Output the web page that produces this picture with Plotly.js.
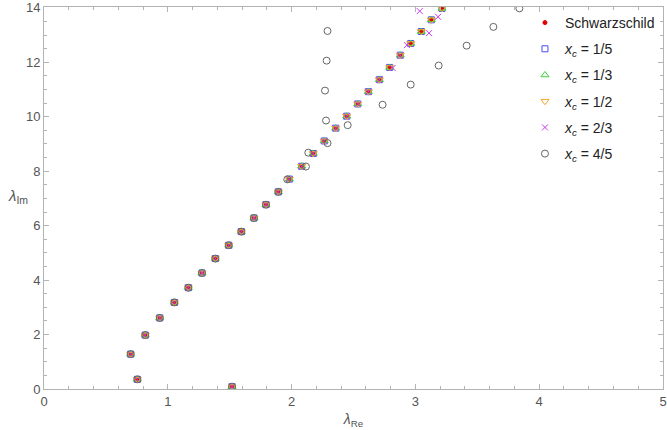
<!DOCTYPE html>
<html>
<head>
<meta charset="utf-8">
<script src="https://cdn.plot.ly/plotly-3.0.1.min.js"></script>
<style>
  html, body { margin: 0; padding: 0; background: #fff; overflow: hidden; }
  #plot { width: 667px; height: 430px; }
</style>
</head>
<body>
<div id="plot"></div>
<script>
// Schwarzschild values
let schwRe = [0.754, 1.519, 0.70, 0.818, 0.935, 1.053, 1.166, 1.276, 1.384, 1.492, 1.594, 1.696, 1.793, 1.893,
              1.982, 2.081, 2.175, 2.264, 2.356, 2.445, 2.534, 2.620, 2.709, 2.792, 2.878, 2.962, 3.048, 3.129, 3.215];
let schwIm = [0.355, 0.084, 1.28, 1.98, 2.61, 3.18, 3.72, 4.26, 4.79, 5.28, 5.78, 6.28, 6.77, 7.24,
              7.71, 8.18, 8.65, 9.11, 9.58, 10.02, 10.47, 10.92, 11.36, 11.81, 12.26, 12.69, 13.13, 13.56, 13.98];

// x_c = 1/5, 1/3, 1/2 sit on top of Schwarzschild
let xc15Re = schwRe.slice(), xc15Im = schwIm.slice();
let xc13Re = schwRe.slice(), xc13Im = schwIm.slice();
let xc12Re = schwRe.slice(), xc12Im = schwIm.slice();

// x_c = 2/3 splits near the top
let xc23Re = [0.754, 1.519, 0.70, 0.818, 0.935, 1.053, 1.166, 1.276, 1.384, 1.492, 1.594, 1.696, 1.793, 1.893,
              1.982, 2.081, 2.175, 2.264, 2.356, 2.445, 2.534, 2.620, 2.709, 2.816, 2.878, 2.932, 3.110, 3.035, 3.183];
let xc23Im = [0.355, 0.084, 1.28, 1.98, 2.61, 3.18, 3.72, 4.26, 4.79, 5.28, 5.78, 6.28, 6.77, 7.24,
              7.71, 8.18, 8.65, 9.11, 9.58, 10.02, 10.47, 10.92, 11.36, 11.79, 12.26, 12.63, 13.07, 13.88, 13.67];

// x_c = 4/5 branches off around 7.7
let xc45Re = [0.754, 1.519, 0.70, 0.818, 0.935, 1.053, 1.166, 1.276, 1.384, 1.492, 1.594, 1.696, 1.793, 1.893,
              1.965, 2.116, 2.135, 2.290, 2.278, 2.270, 2.283, 2.290,
              2.453, 2.735, 2.962, 3.188, 3.414, 3.630, 3.840];
let xc45Im = [0.355, 0.084, 1.28, 1.98, 2.61, 3.18, 3.72, 4.26, 4.79, 5.28, 5.78, 6.28, 6.77, 7.24,
              7.70, 8.17, 8.68, 9.03, 9.86, 10.96, 12.06, 13.15,
              9.69, 10.44, 11.18, 11.88, 12.61, 13.30, 13.98];

let xTicks = [0, 1, 2, 3, 4, 5];
let yTicks = [0, 2, 4, 6, 8, 10, 12, 14];

let names = ["Schwarzschild", "<i>x</i><sub><i>c</i></sub> = 1/5", "<i>x</i><sub><i>c</i></sub> = 1/3",
             "<i>x</i><sub><i>c</i></sub> = 1/2", "<i>x</i><sub><i>c</i></sub> = 2/3", "<i>x</i><sub><i>c</i></sub> = 4/5"];

function trace(x, y, i, symbol, color, size) {
    return {
        x: x, y: y, name: names[i], type: "scatter", mode: "markers",
        legendgroup: "g" + i,
        marker: { symbol: symbol, color: color, size: size, line: { color: color, width: 1 } }
    };
}

let data = [
    trace(schwRe, schwIm, 0, "circle", "#e00000", 4),
    trace(xc15Re, xc15Im, 1, "square-open", "#4a4aff", 6),
    trace(xc13Re, xc13Im, 2, "triangle-up-open", "#3cd23c", 7),
    trace(xc12Re, xc12Im, 3, "triangle-down-open", "#f5a623", 7),
    trace(xc23Re, xc23Im, 4, "x-thin-open", "#c63cf0", 6),
    trace(xc45Re, xc45Im, 5, "circle-open", "#666666", 7)
];

let axisCommon = {
    showgrid: false, zeroline: false, showline: true, mirror: "ticks",
    automargin: false,
    linecolor: "#b3b3b3", linewidth: 1,
    ticks: "inside", ticklen: 5, tickcolor: "#b3b3b3",
    tickmode: "array",
    tickfont: { family: "Liberation Sans, Arial", size: 13, color: "#555" }
};

let layout = {
    width: 667, height: 430,
    margin: { l: 44, r: 4, t: 7, b: 41, autoexpand: false },
    paper_bgcolor: "#fff", plot_bgcolor: "#fff",
    showlegend: true,
    legend: {
        x: 0.777, y: 1.0, xanchor: "left", yanchor: "top",
        bgcolor: "rgba(0,0,0,0)", traceorder: "grouped", tracegroupgap: 5,
        font: { family: "Liberation Sans, Arial", size: 14, color: "#222" }
    },
    xaxis: Object.assign({}, axisCommon, {
        range: [0, 5], tickvals: xTicks,
        minor: { dtick: 0.2, ticks: "inside", ticklen: 3, tickcolor: "#b3b3b3" },
        title: { text: "<i>λ</i><sub>Re</sub>", standoff: 6,
                 font: { family: "Liberation Sans, Arial", size: 14, color: "#555" } }
    }),
    yaxis: Object.assign({}, axisCommon, {
        range: [0, 14.03], tickvals: yTicks,
        minor: { dtick: 0.5, ticks: "inside", ticklen: 3, tickcolor: "#b3b3b3" }
    }),
    annotations: [{
        text: "<i>λ</i><sub>Im</sub>", xref: "paper", yref: "paper",
        x: -0.022, y: 0.505, xanchor: "right", yanchor: "middle", showarrow: false,
        font: { family: "Liberation Sans, Arial", size: 15, color: "#555" }
    }]
};

Plotly.newPlot("plot", data, layout, { displayModeBar: false, staticPlot: true });
</script>
</body>
</html>
